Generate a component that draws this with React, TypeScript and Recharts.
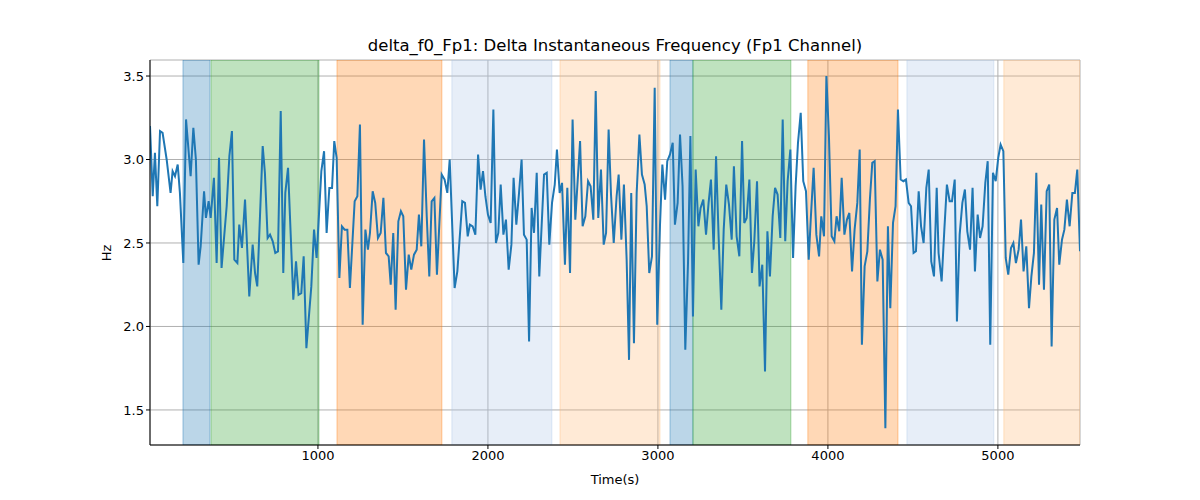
import React from "react";
import { LineChart, Line, XAxis, YAxis, CartesianGrid, ReferenceArea } from "recharts";

const times = [12,28,41,55,71,86,110,133,145,159,175,188,208,224,251,267,282,298,310,330,341,357,369,388,404,418,433,463,479,494,508,526,537,553,571,596,616,630,643,675,688,704,718,734,749,765,781,796,808,824,855,871,886,902,916,932,961,977,992,1020,1036,1051,1067,1083,1096,1110,1126,1141,1157,1173,1188,1216,1232,1247,1263,1279,1294,1306,1322,1337,1353,1369,1385,1400,1416,
1428,1443,1457,1473,1488,1502,1518,1534,1549,1565,1581,1594,1608,1624,1640,1655,1669,1685,1700,1728,1745,1761,1775,1804,1820,1849,1865,1881,1894,1910,1926,1942,1957,1971,1985,2000,2016,2032,2047,2061,2075,2091,2106,2122,2138,2151,2167,2183,2198,2212,2228,2242,2257,2271,2287,2302,2330,2346,2361,2377,2393,2406,2422,2436,2453,2467,2483,2498,2514,2542,2557,2573,2589,2604,2620,2634,2649,2665,2681,2695,2710,2724,2740,2757,2769,
2785,2800,2816,2830,2843,2859,2875,2891,2906,2922,2934,2949,2965,2981,2996,3012,3026,3042,3055,3071,3087,3100,3116,3130,3145,3161,3177,3191,3206,3222,3238,3251,3267,3283,3298,3312,3328,3342,3357,3373,3387,3402,3418,3434,3447,3463,3479,3495,3508,3522,3538,3553,3567,3583,3598,3614,3630,3644,3659,3675,3689,3704,3720,3734,3749,3763,3779,3795,3810,3824,3840,3855,3871,3887,3900,3916,3932,3948,3961,3977,3991,4006,4022,4038,4051,4067,4081,4097,4112,4126,
4142,4157,4173,4187,4200,4216,4232,4247,4261,4275,4291,4306,4322,4338,4353,4367,4383,4398,4412,4428,4444,4459,4475,4489,4504,4518,4534,4548,4563,4579,4593,4608,4624,4640,4651,4669,4685,4700,4716,4730,4746,4759,4775,4791,4806,4820,4836,4851,4865,4881,4895,4910,4926,4940,4955,4971,4987,5002,5016,5032,5046,5061,5077,5091,5106,5122,5136,5151,5167,5183,5197,5212,5226,5242,5255,5271,5287,5302,5316,5332,5348,5361,5377,5391,5406,5422,5438,5453,5467,5483];

const values = [3.2,2.78,3.04,2.72,3.17,3.16,3.0,2.8,2.93,2.9,2.97,2.8,2.38,3.24,2.9,3.19,3.0,2.37,2.48,2.81,2.65,2.75,2.65,2.89,2.38,3.01,2.35,2.72,3.02,3.17,2.4,2.38,2.61,2.47,2.76,2.18,2.49,2.32,2.24,3.08,2.92,2.53,2.55,2.51,2.44,2.45,3.29,2.32,2.8,2.95,2.16,2.39,2.19,2.2,2.42,1.87,2.24,2.58,2.41,2.93,3.05,2.56,2.83,2.83,3.11,3.01,2.29,2.6,2.58,2.58,2.23,2.75,2.78,3.21,2.01,2.58,2.46,2.56,2.81,2.74,2.53,2.56,2.77,2.44,2.42,
2.25,2.56,2.1,2.63,2.69,2.66,2.22,2.43,2.34,2.43,2.46,2.67,2.48,3.12,2.66,2.3,2.75,2.77,2.31,2.91,2.88,2.8,3.0,2.23,2.33,2.75,2.74,2.54,2.61,2.6,2.55,3.03,2.82,2.93,2.78,2.67,2.62,3.3,2.5,2.56,2.85,2.55,2.64,2.34,2.49,2.89,2.61,2.8,3.0,2.55,2.52,1.91,2.71,2.56,2.92,2.3,2.91,2.92,2.49,2.74,2.85,3.06,2.8,2.86,2.37,2.83,2.32,3.24,2.64,3.11,2.6,2.66,2.87,2.84,2.64,3.41,2.65,2.94,2.49,2.56,3.18,2.79,2.5,2.78,2.91,
2.52,2.85,2.4,1.8,2.8,1.9,2.8,3.15,2.91,2.85,2.72,2.32,2.42,3.43,2.01,2.6,2.97,2.76,2.99,3.03,3.1,2.61,2.74,3.15,2.84,1.86,2.38,3.14,2.06,2.94,2.6,2.71,2.76,2.55,2.74,2.88,2.46,3.02,2.54,2.1,2.58,2.85,2.73,2.52,2.96,2.54,2.42,3.11,2.62,2.65,2.88,2.32,2.51,2.87,2.24,2.37,1.73,2.57,2.3,2.66,2.83,2.79,2.53,3.24,2.51,2.87,3.06,2.41,2.84,3.1,3.28,2.87,2.81,2.4,2.66,2.95,2.55,2.42,2.66,2.54,3.5,3.14,2.54,2.51,2.66,2.57,2.89,2.55,2.64,2.68,
2.33,2.58,2.74,3.06,1.89,2.36,2.45,2.76,2.98,2.99,2.27,2.46,2.4,1.39,2.6,2.11,2.62,2.72,3.3,2.88,2.87,2.88,2.74,2.72,2.44,2.45,2.81,2.6,2.5,2.83,2.94,2.39,2.3,2.83,2.44,2.27,2.58,2.85,2.75,2.75,2.88,2.03,2.55,2.74,2.82,2.57,2.46,2.83,2.33,2.67,2.53,2.6,2.86,2.99,1.89,2.92,2.87,3.01,3.09,3.05,2.41,2.31,2.47,2.5,2.38,2.46,2.64,2.33,2.48,2.11,2.3,2.44,2.92,2.25,2.73,2.22,2.81,2.85,1.88,2.64,2.71,2.37,2.52,2.58,2.76,2.6,2.8,2.8,2.94,2.45];

const bandStarts = [206, 371, 1112, 1788, 2424, 3071, 3206, 3882, 4465, 5035];
const bandEnds = [365, 1006, 1729, 2376, 3012, 3206, 3782, 4412, 4976, 5483];
const bandColors = ["#1f77b4", "#2ca02c", "#ff7f0e", "#aec7e8", "#ffbb78", "#1f77b4", "#2ca02c", "#ff7f0e", "#aec7e8", "#ffbb78"];
const bandOpacity = [0.3, 0.3, 0.3, 0.3, 0.3, 0.3, 0.3, 0.3, 0.3, 0.3];

const xTicks = [1000, 2000, 3000, 4000, 5000];
const yTicks = [1.5, 2.0, 2.5, 3.0, 3.5];

const data = times.map((t, i) => ({ t, v: values[i] }));

export default function App() {
  const font = "DejaVu Sans, sans-serif";
  return (
    <div style={{ position: "absolute", left: 0, top: 0, width: 1200, height: 500, background: "#fff", fontFamily: font }}>
      <div style={{ position: "absolute", top: 36, left: 150, width: 930, textAlign: "center", fontSize: 16.5, color: "#000" }}>
        delta_f0_Fp1: Delta Instantaneous Frequency (Fp1 Channel)
      </div>
      <div style={{ position: "absolute", top: 472, left: 150, width: 930, textAlign: "center", fontSize: 13, color: "#000" }}>
        Time(s)
      </div>
      <div style={{ position: "absolute", top: 253, left: 106, fontSize: 13, color: "#000", transform: "translate(-50%, -50%) rotate(-90deg)" }}>
        Hz
      </div>
      <LineChart width={1200} height={500} data={data} margin={{ top: 60, right: 120, bottom: 25, left: 90 }}>
        <CartesianGrid stroke="#b0b0b0" strokeWidth={1} />
        {bandStarts.map((s, i) => (
          <ReferenceArea key={i} x1={s} x2={bandEnds[i]} fill={bandColors[i]} fillOpacity={bandOpacity[i]} stroke={bandColors[i]} strokeOpacity={0.4} ifOverflow="hidden" />
        ))}
        <XAxis dataKey="t" type="number" domain={[12, 5483]} ticks={xTicks} allowDataOverflow height={30}
          tick={{ fontSize: 13, fill: "#000", fontFamily: font }} tickLine={{ stroke: "#000" }} axisLine={{ stroke: "#000" }} tickSize={4} />
        <XAxis xAxisId="top" orientation="top" type="number" domain={[12, 5483]} tick={false} tickLine={false} axisLine={{ stroke: "#000" }} height={0} />
        <YAxis type="number" domain={[1.29, 3.596]} ticks={yTicks} allowDataOverflow width={60}
          tickFormatter={(v: number) => v.toFixed(1)}
          tick={{ fontSize: 13, fill: "#000", fontFamily: font }} tickLine={{ stroke: "#000" }} axisLine={{ stroke: "#000" }} tickSize={4} />
        <YAxis yAxisId="right" orientation="right" type="number" domain={[1.29, 3.596]} tick={false} tickLine={false} axisLine={{ stroke: "#000" }} width={0} />
        <Line dataKey="v" type="linear" stroke="#1f77b4" strokeWidth={2} dot={false} isAnimationActive={false} />
      </LineChart>
    </div>
  );
}
